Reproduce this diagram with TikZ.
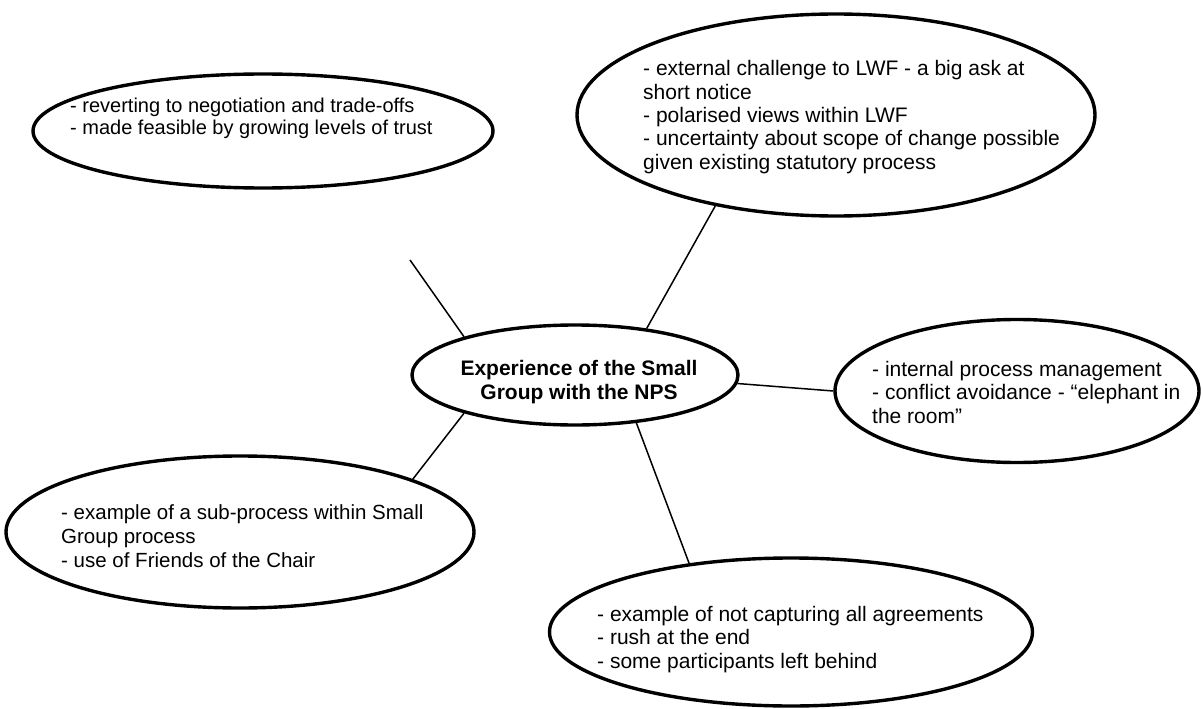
\documentclass[tikz,border=0pt]{standalone}
\usepackage{fontspec}
\setmainfont{Liberation Sans}
\usetikzlibrary{shapes.geometric}
\begin{document}
\begin{tikzpicture}[x=1pt,y=-1pt,
  bubble/.style={draw, ellipse, line width=3.4pt, inner sep=0pt},
  txt/.style={anchor=base west, align=left, inner sep=0pt, font=\fontsize{21}{23.3}\selectfont},
  link/.style={line width=1.5pt}]
\useasboundingbox (0,0) rectangle (1203,709);
% ellipses
\node[bubble, minimum width=460pt, minimum height=114pt] (e1) at (263,131) {};
\node[bubble, minimum width=518pt, minimum height=202pt] (e2) at (836,115) {};
\node[bubble, minimum width=326pt, minimum height=100pt] (c) at (575,375) {};
\node[bubble, minimum width=364pt, minimum height=143pt] (e4) at (1017,391) {};
\node[bubble, minimum width=468pt, minimum height=152pt] (e5) at (240,532) {};
\node[bubble, minimum width=483pt, minimum height=148pt] (e6) at (791,632) {};
% texts (anchor = baseline of last line)
\node[txt, font=\fontsize{20}{23}\selectfont] (t1) at (70,135) {- reverting to negotiation and trade-offs\\- made feasible by growing levels of trust};
\node[txt] (t2) at (643,169) {- external challenge to LWF - a big ask at\\short notice\\- polarised views within LWF\\- uncertainty about scope of change possible\\given existing statutory process};
\node[anchor=base, align=center, inner sep=0pt, font=\fontsize{21}{24}\selectfont\bfseries] (tc) at (579,399) {Experience of the Small\\Group with the NPS};
\node[txt] (t4) at (872,423) {- internal process management\\- conflict avoidance - “elephant in\\the room”};
\node[txt, font=\fontsize{20.5}{24}\selectfont] (t5) at (61,567) {- example of a sub-process within Small\\Group process\\- use of Friends of the Chair};
\node[txt] (t6) at (597,668) {- example of not capturing all agreements\\- rush at the end\\- some participants left behind};
% connectors
\coordinate (f1) at (410,260);
\draw[link] (f1) -- (c.161);
\draw[link] (e2.217) -- (c.33);
\draw[link] (c.-3) -- (e4.180);
\draw[link] (c.199) -- (e5.17);
\draw[link] (c.-38) -- (e6.146);
\end{tikzpicture}
\end{document}
